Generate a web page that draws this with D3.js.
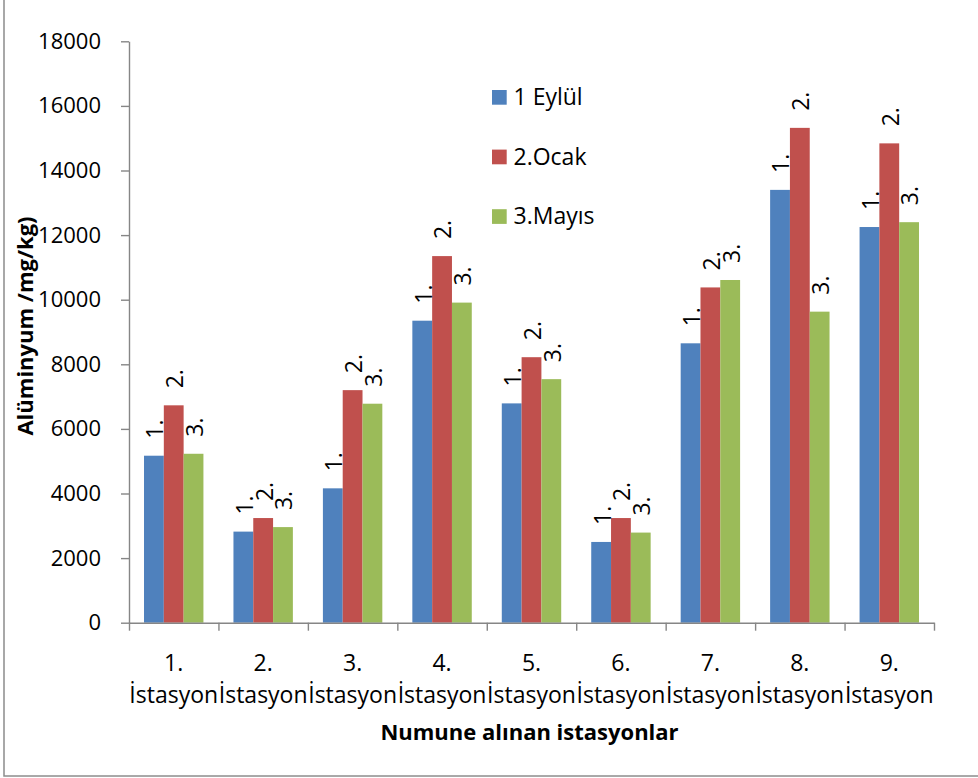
<!DOCTYPE html>
<html>
<head>
<meta charset="utf-8">
<script src="https://cdn.jsdelivr.net/npm/d3@7"></script>
<style>
  html, body { margin: 0; padding: 0; background: #fff; }
  svg { display: block; font-family: "Open Sans", "Noto Sans", sans-serif; }
</style>
</head>
<body>
<svg id="chart" width="978" height="778"></svg>
<script>
// Alüminyum (mg/kg) measured at nine stations over three sampling periods
const categories = ["1. İstasyon", "2. İstasyon", "3. İstasyon", "4. İstasyon", "5. İstasyon",
                    "6. İstasyon", "7. İstasyon", "8. İstasyon", "9. İstasyon"];
const seriesNames = ["1 Eylül", "2.Ocak", "3.Mayıs"];
const pointLabels = ["1.", "2.", "3."];
const eylul = [5170, 2820, 4160, 9350, 6790, 2500, 8650, 13400, 12250];
const ocak  = [6730, 3240, 7200, 11350, 8220, 3240, 10380, 15320, 14840];
const mayis = [5230, 2960, 6780, 9910, 7540, 2790, 10610, 9630, 12400];
const yTicks = [0, 2000, 4000, 6000, 8000, 10000, 12000, 14000, 16000, 18000];
const yTitle = "Alüminyum /mg/kg)";
const xTitle = "Numune alınan istasyonlar";

const seriesValues = [eylul, ocak, mayis];
const colors = ["#4F81BD", "#C0504D", "#9BBB59"];

const svg = d3.select("#chart");
const plotLeft = 129, plotRight = 934, plotTop = 41.3, plotBottom = 622.7;

// outer chart frame
svg.append("rect")
  .attr("x", 4).attr("y", -10)
  .attr("width", 1000).attr("height", 786)
  .attr("fill", "none").attr("stroke", "#8c8c8c").attr("stroke-width", 1.5);

const y = d3.scaleLinear().domain([0, 18000]).range([plotBottom, plotTop]);
const x = d3.scaleBand().domain(categories).range([plotLeft, plotRight]).padding(0);
const x1 = d3.scaleBand().domain(d3.range(seriesNames.length))
  .range([0, x.bandwidth()]).paddingInner(0).paddingOuter(0.758);

// bars
const groups = svg.append("g").selectAll("g")
  .data(categories)
  .join("g")
  .attr("transform", d => `translate(${x(d)},0)`);

groups.selectAll("rect")
  .data((c, i) => seriesValues.map((vals, s) => ({ s, v: vals[i] })))
  .join("rect")
  .attr("x", d => x1(d.s))
  .attr("y", d => y(d.v))
  .attr("width", x1.bandwidth())
  .attr("height", d => y(0) - y(d.v))
  .attr("fill", d => colors[d.s]);

// rotated point labels above each bar
groups.selectAll("text.pl")
  .data((c, i) => seriesValues.map((vals, s) => ({ s, v: vals[i] })))
  .join("text")
  .attr("class", "pl")
  .attr("transform", d => `translate(${x1(d.s) + x1.bandwidth() - 0.5},${y(d.v) - 17}) rotate(-90)`)
  .attr("text-anchor", "start")
  .attr("font-size", 23)
  .attr("fill", "#000")
  .text(d => pointLabels[d.s]);

// y axis
const yAxis = svg.append("g")
  .attr("transform", `translate(${plotLeft},0)`)
  .call(d3.axisLeft(y).tickValues(yTicks).tickFormat(d3.format("d"))
    .tickSize(8).tickPadding(20).tickSizeOuter(0));
yAxis.selectAll("path, line").attr("stroke", "#868686").attr("stroke-width", 1.4);
yAxis.selectAll("text").attr("font-size", 22).attr("fill", "#000")
  .attr("font-family", "Open Sans, sans-serif");

// x axis: ticks sit on category boundaries
const xb = d3.scaleLinear().domain([0, categories.length]).range([plotLeft, plotRight]);
const xAxis = svg.append("g")
  .attr("transform", `translate(0,${plotBottom})`)
  .call(d3.axisBottom(xb).tickValues(d3.range(categories.length + 1)).tickFormat("").tickSize(8).tickSizeOuter(0));
xAxis.selectAll("path, line").attr("stroke", "#868686").attr("stroke-width", 1.4);

// category labels on two lines
const catLabels = svg.append("g").selectAll("text")
  .data(categories)
  .join("text")
  .attr("text-anchor", "middle")
  .attr("font-size", 23)
  .attr("fill", "#000");
catLabels.append("tspan")
  .attr("x", d => x(d) + x.bandwidth() / 2).attr("y", 670.5)
  .text(d => d.split(" ")[0]);
catLabels.append("tspan")
  .attr("x", d => x(d) + x.bandwidth() / 2).attr("y", 703)
  .text(d => d.split(" ").slice(1).join(" "));

// axis titles
svg.append("text")
  .attr("transform", "translate(33.3,326) rotate(-90)")
  .attr("text-anchor", "middle")
  .attr("font-size", 22).attr("font-weight", "bold").attr("fill", "#000")
  .text(yTitle);

svg.append("text")
  .attr("x", 529.5).attr("y", 740)
  .attr("text-anchor", "middle")
  .attr("font-size", 22).attr("font-weight", "bold").attr("fill", "#000")
  .text(xTitle);

// legend
const legend = svg.append("g").attr("transform", "translate(492,90)");
const items = legend.selectAll("g")
  .data(seriesNames)
  .join("g")
  .attr("transform", (d, i) => `translate(0,${i * 59.6})`);
items.append("rect")
  .attr("width", 14.7).attr("height", 14.7)
  .attr("fill", (d, i) => colors[i]);
items.append("text")
  .attr("x", 21.5).attr("y", 15)
  .attr("font-size", 23).attr("fill", "#000")
  .text(d => d);
</script>
</body>
</html>
